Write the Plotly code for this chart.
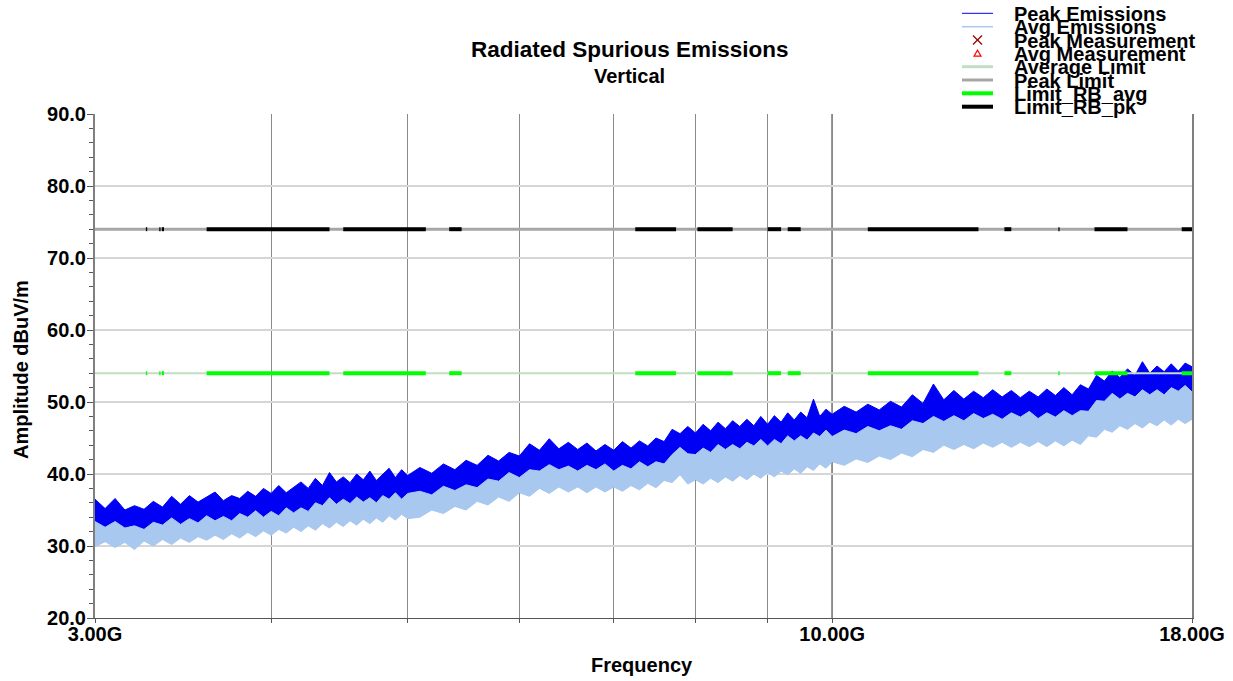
import plotly.graph_objects as go

# ---------------- data (frequency in GHz, amplitude in dBuV/m) ----------------
freq_ghz = [
    3.00, 3.05, 3.10, 3.15, 3.20, 3.25, 3.30, 3.35, 3.40, 3.45,
    3.50, 3.55, 3.60, 3.65, 3.70, 3.75, 3.80, 3.85, 3.90, 3.95,
    4.00, 4.05, 4.10, 4.15, 4.20, 4.25, 4.30, 4.35, 4.40, 4.45,
    4.50, 4.55, 4.60, 4.65, 4.70, 4.75, 4.80, 4.85, 4.90, 4.95,
    5.00,
    5.1, 5.2, 5.3, 5.4, 5.5, 5.6, 5.7, 5.8, 5.9, 6.0,
    6.1, 6.2, 6.3, 6.4, 6.5, 6.6, 6.7, 6.8, 6.9, 7.0,
    7.1, 7.2, 7.3, 7.4, 7.5, 7.6, 7.7, 7.8, 7.9, 8.0,
    8.1, 8.2, 8.3, 8.4, 8.5, 8.6, 8.7, 8.8, 8.9, 9.0,
    9.1, 9.2, 9.3, 9.4, 9.5, 9.6, 9.7, 9.8, 9.9, 10.0,
    10.2, 10.4, 10.6, 10.8, 11.0, 11.2, 11.4, 11.6, 11.8, 12.0,
    12.2, 12.4, 12.6, 12.8, 13.0, 13.2, 13.4, 13.6, 13.8, 14.0,
    14.2, 14.4, 14.6, 14.8, 15.0, 15.2, 15.4, 15.6, 15.8, 16.0,
    16.2, 16.4, 16.6, 16.8, 17.0, 17.2, 17.4, 17.6, 17.8, 18.0,
]

# Peak emissions: upper / lower envelope of the noisy trace
peak_hi = [
    36.5, 35.2, 36.6, 35.0, 35.6, 35.1, 36.2, 35.4, 36.9, 35.8,
    37.0, 36.1, 36.8, 37.5, 36.3, 37.0, 36.6, 37.6, 36.9, 38.0,
    37.3, 38.4, 37.4, 38.2, 38.9, 38.0, 39.4, 38.4, 40.2, 38.9,
    39.6, 38.8, 40.0, 39.2, 40.4, 39.1, 39.9, 40.8, 39.5, 40.6,
    39.8,
    40.9, 40.1, 41.4, 40.6, 41.9, 41.2, 42.6, 41.8, 43.0, 42.5,
    44.2, 43.3, 44.9, 43.5, 44.4, 43.4, 44.3, 43.2, 44.1, 43.3,
    44.5, 43.6, 44.6, 43.9, 45.0, 44.5, 46.2, 45.6, 46.6, 45.7,
    46.9, 46.0, 47.2, 46.3, 47.4, 46.6, 47.6, 46.7, 48.0, 46.9,
    48.1, 47.2, 48.5, 47.5, 48.6, 47.8, 50.4, 48.0, 49.0, 48.3,
    49.4, 48.6, 49.7, 48.9, 50.1, 49.3, 51.0, 49.8, 52.5, 50.3,
    51.6, 50.4, 51.5, 50.6, 51.7, 50.7, 51.6, 50.6, 51.5, 50.7,
    51.8, 50.9, 52.0, 51.0, 52.4, 51.8, 53.7, 52.9, 54.3, 53.4,
    54.6, 53.7, 55.6, 54.0, 55.0, 54.2, 55.3, 54.3, 55.4, 54.9,
]
peak_lo = [
    30.9, 31.6, 30.8, 31.5, 30.5, 31.7, 31.0, 31.9, 31.2, 32.1,
    31.5, 32.3, 31.8, 32.5, 31.9, 32.7, 32.1, 32.9, 32.3, 33.1,
    32.5, 33.3, 32.8, 33.6, 33.0, 33.8, 33.2, 34.1, 33.5, 34.3,
    33.7, 34.5, 33.9, 34.7, 34.1, 34.9, 34.3, 35.2, 34.6, 35.4,
    34.8,
    35.0, 36.0, 35.5, 36.5, 36.0, 37.2, 36.7, 37.8, 37.2, 38.4,
    37.9, 39.0, 38.3, 39.2, 38.5, 39.2, 38.4, 39.2, 38.5, 39.2,
    38.6, 39.4, 38.8, 39.7, 39.1, 40.1, 39.8, 40.9, 39.6, 40.2,
    39.6, 40.4, 39.8, 40.6, 40.0, 40.8, 40.2, 41.0, 40.4, 41.2,
    40.6, 41.4, 40.9, 41.7, 41.1, 42.0, 41.5, 42.4, 41.8, 42.7,
    42.2, 43.1, 42.6, 43.5, 43.0, 43.9, 43.4, 44.4, 44.0, 45.0,
    44.4, 45.1, 44.5, 45.3, 44.7, 45.4, 44.7, 45.4, 44.8, 45.5,
    44.8, 45.6, 44.9, 45.7, 45.1, 46.3, 46.1, 47.2, 46.8, 47.7,
    47.2, 48.0, 47.4, 48.2, 47.7, 48.5, 47.8, 48.6, 48.0, 48.6,
]

# Average emissions: upper / lower envelope
avg_hi = [
    33.4, 32.6, 33.4, 32.5, 32.8, 32.3, 33.3, 32.9, 33.9, 33.0,
    33.8, 33.2, 34.2, 33.5, 34.1, 33.5, 34.5, 34.0, 34.9, 34.0,
    34.8, 34.2, 35.3, 34.6, 35.3, 34.8, 36.0, 35.6, 36.7, 35.8,
    36.5, 35.9, 36.8, 36.1, 36.7, 36.0, 37.0, 36.5, 37.4, 36.5,
    37.3,
    37.6, 37.1, 38.3, 37.7, 38.5, 38.1, 39.3, 39.0, 40.2, 39.5,
    40.6, 40.4, 41.3, 40.6, 41.1, 40.4, 41.2, 40.6, 41.4, 40.4,
    41.2, 40.7, 41.7, 41.0, 41.7, 41.4, 42.7, 43.7, 42.8, 42.7,
    43.6, 43.0, 44.1, 43.4, 44.1, 43.5, 44.4, 43.9, 44.8, 43.9,
    44.8, 44.2, 45.3, 44.6, 45.3, 44.7, 45.7, 45.2, 46.1, 45.2,
    46.1, 45.6, 46.6, 46.0, 46.7, 46.2, 47.4, 47.0, 48.0, 47.3,
    48.1, 47.4, 48.4, 47.7, 48.3, 47.6, 48.5, 47.9, 48.7, 47.7,
    48.5, 47.9, 48.8, 48.1, 48.8, 48.7, 50.2, 50.1, 51.2, 50.4,
    51.2, 50.7, 51.7, 51.0, 51.7, 51.0, 52.0, 51.5, 52.3, 51.4,
]
avg_lo = [
    29.9, 30.6, 29.8, 30.5, 29.5, 30.7, 30.0, 30.9, 30.2, 31.1,
    30.5, 31.3, 30.8, 31.5, 30.9, 31.7, 31.1, 31.9, 31.3, 32.1,
    31.5, 32.3, 31.8, 32.6, 32.0, 32.8, 32.2, 33.1, 32.5, 33.3,
    32.7, 33.5, 32.9, 33.7, 33.1, 33.9, 33.3, 34.2, 33.6, 34.4,
    33.8,
    34.0, 35.0, 34.5, 35.5, 35.0, 36.2, 35.7, 36.8, 36.2, 37.4,
    36.9, 38.0, 37.3, 38.2, 37.5, 38.2, 37.4, 38.2, 37.5, 38.2,
    37.6, 38.4, 37.8, 38.7, 38.1, 39.1, 38.8, 39.9, 38.6, 39.2,
    38.6, 39.4, 38.8, 39.6, 39.0, 39.8, 39.2, 40.0, 39.4, 40.2,
    39.6, 40.4, 39.9, 40.7, 40.1, 41.0, 40.5, 41.4, 40.8, 41.7,
    41.2, 42.1, 41.6, 42.5, 42.0, 42.9, 42.4, 43.4, 43.0, 44.0,
    43.4, 44.1, 43.5, 44.3, 43.7, 44.4, 43.7, 44.4, 43.8, 44.5,
    43.8, 44.6, 43.9, 44.7, 44.1, 45.3, 45.1, 46.2, 45.8, 46.7,
    46.2, 47.0, 46.4, 47.2, 46.7, 47.5, 46.8, 47.6, 47.0, 47.6,
]

# Limits
limit_freq = [3.0, 18.0]
average_limit = [54.0, 54.0]
peak_limit = [74.0, 74.0]

# Restricted bands (GHz)
rb_start = [3.26, 3.332, 3.3458, 3.6, 4.5, 5.35, 7.25, 8.025, 9.0, 9.3, 10.6, 13.25, 14.47, 15.35, 17.7]
rb_stop = [3.267, 3.339, 3.358, 4.4, 5.15, 5.46, 7.75, 8.5, 9.2, 9.5, 12.7, 13.4, 14.5, 16.2, 21.4]
rb_avg_level = 54.0
rb_pk_level = 74.0

x_tickvals = [3, 4, 5, 6, 7, 8, 9, 10, 18]
x_ticktext = ["3.00G", "", "", "", "", "", "", "10.00G", "18.00G"]
y_tickvals = [20, 30, 40, 50, 60, 70, 80, 90]

legend_labels = ["Peak Emissions", "Avg Emissions", "Peak Measurement", "Avg Measurement",
                 "Average Limit", "Peak Limit", "Limit_RB_avg", "Limit_RB_pk"]

# ---------------- styling ----------------
FONT = "Liberation Sans, Arial, sans-serif"
C_PEAK = "#0000f5"
C_AVG = "#a8c8f0"
C_AVG_LIM = "#c2dec2"
C_PK_LIM = "#a6a6a6"
C_RB_AVG = "#00ff00"
C_RB_PK = "#000000"

W, H = 1233, 681
ML, MR, MT, MB = 95, 41, 114, 63
PW, PH = W - ML - MR, H - MT - MB


def xp(px):
    return (px - ML) / PW


def yp(py):
    return (MT + PH - py) / PH


fig = go.Figure()

# Peak emissions band
fig.add_trace(go.Scatter(x=freq_ghz, y=peak_lo, mode="lines",
                         line=dict(color=C_PEAK, width=0.5), showlegend=False, hoverinfo="skip"))
fig.add_trace(go.Scatter(x=freq_ghz, y=peak_hi, mode="lines", fill="tonexty",
                         fillcolor=C_PEAK, line=dict(color=C_PEAK, width=1),
                         name="Peak Emissions", showlegend=False))
# Average emissions band
fig.add_trace(go.Scatter(x=freq_ghz, y=avg_lo, mode="lines",
                         line=dict(color=C_AVG, width=1), showlegend=False, hoverinfo="skip"))
fig.add_trace(go.Scatter(x=freq_ghz, y=avg_hi, mode="lines", fill="tonexty",
                         fillcolor=C_AVG, line=dict(color=C_AVG, width=1),
                         name="Avg Emissions", showlegend=False))

# Limits
fig.add_trace(go.Scatter(x=limit_freq, y=average_limit, mode="lines",
                         line=dict(color=C_AVG_LIM, width=2), name="Average Limit", showlegend=False))
fig.add_trace(go.Scatter(x=limit_freq, y=peak_limit, mode="lines",
                         line=dict(color=C_PK_LIM, width=3), name="Peak Limit", showlegend=False))

rb_x, rb_y_avg, rb_y_pk = [], [], []
for s, e in zip(rb_start, rb_stop):
    rb_x += [s, e, None]
    rb_y_avg += [rb_avg_level, rb_avg_level, None]
    rb_y_pk += [rb_pk_level, rb_pk_level, None]

fig.add_trace(go.Scatter(x=rb_x, y=rb_y_avg, mode="lines", connectgaps=False,
                         line=dict(color=C_RB_AVG, width=4), name="Limit_RB_avg", showlegend=False))
fig.add_trace(go.Scatter(x=rb_x, y=rb_y_pk, mode="lines", connectgaps=False,
                         line=dict(color=C_RB_PK, width=4), name="Limit_RB_pk", showlegend=False))

# ---------------- custom legend (overlapping, as in the reference) ----------------
shapes = []
annotations = []
row_y = [13.3, 26.7, 40.0, 53.3, 66.7, 80.0, 93.3, 106.7]
line_styles = {
    0: (C_PEAK, 1),
    1: (C_AVG, 1.5),
    4: (C_AVG_LIM, 3),
    5: (C_PK_LIM, 3),
    6: (C_RB_AVG, 4),
    7: (C_RB_PK, 4),
}
for i, lab in enumerate(legend_labels):
    y = row_y[i]
    if i in line_styles:
        col, wd = line_styles[i]
        shapes.append(dict(type="line", xref="paper", yref="paper",
                           x0=xp(962), x1=xp(993), y0=yp(y), y1=yp(y),
                           line=dict(color=col, width=wd)))
    annotations.append(dict(text="<b>%s</b>" % lab, xref="paper", yref="paper",
                            x=xp(1012), y=yp(y + 0.5), xanchor="left", yanchor="middle",
                            showarrow=False, font=dict(family=FONT, size=20, color="black")))
# X marker (Peak Measurement)
cx, cy = 977.5, row_y[2]
shapes.append(dict(type="line", xref="paper", yref="paper", x0=xp(cx - 4.5), x1=xp(cx + 4.5),
                   y0=yp(cy - 4.5), y1=yp(cy + 4.5), line=dict(color="#9a0000", width=1.2)))
shapes.append(dict(type="line", xref="paper", yref="paper", x0=xp(cx - 4.5), x1=xp(cx + 4.5),
                   y0=yp(cy + 4.5), y1=yp(cy - 4.5), line=dict(color="#9a0000", width=1.2)))
# Triangle marker (Avg Measurement)
cx, cy = 977.5, row_y[3]
shapes.append(dict(type="path", xref="paper", yref="paper",
                   path="M %f %f L %f %f L %f %f Z" % (xp(cx - 3.5), yp(cy + 2.8), xp(cx + 3.5), yp(cy + 2.8),
                                                      xp(cx), yp(cy - 3.2)),
                   line=dict(color="#ff0000", width=1.2), fillcolor="rgba(0,0,0,0)"))

# darker decade gridline at 10 GHz
shapes.append(dict(type="line", xref="x", yref="paper", x0=10, x1=10, y0=0, y1=1,
                   line=dict(color="#5a5a5a", width=1.5), layer="between"))

# Titles
annotations.append(dict(text="<b>Radiated Spurious Emissions</b>", xref="paper", yref="paper",
                        x=xp(630), y=yp(49), xanchor="center", yanchor="middle", showarrow=False,
                        font=dict(family=FONT, size=22.5, color="black")))
annotations.append(dict(text="<b>Vertical</b>", xref="paper", yref="paper",
                        x=xp(629), y=yp(76), xanchor="center", yanchor="middle", showarrow=False,
                        font=dict(family=FONT, size=20, color="black")))
annotations.append(dict(text="<b>Frequency</b>", xref="paper", yref="paper",
                        x=xp(642), y=yp(665), xanchor="center", yanchor="middle", showarrow=False,
                        font=dict(family=FONT, size=20, color="black")))
annotations.append(dict(text="<b>Amplitude dBuV/m</b>", xref="paper", yref="paper",
                        x=xp(21), y=yp(370), xanchor="center", yanchor="middle", showarrow=False,
                        textangle=-90, font=dict(family=FONT, size=20, color="black")))

fig.update_layout(
    width=W, height=H,
    margin=dict(l=ML, r=MR, t=MT, b=MB, pad=0, autoexpand=False),
    paper_bgcolor="white", plot_bgcolor="white",
    showlegend=False,
    shapes=shapes, annotations=annotations,
    font=dict(family=FONT, size=20, color="black"),
)
fig.update_xaxes(
    type="log", range=[0.47712125, 1.25527251], automargin=False,
    tickmode="array", tickvals=x_tickvals, ticktext=["<b>%s</b>" % t if t else "" for t in x_ticktext],
    ticks="outside", ticklen=4, tickcolor="#555555", tickwidth=1,
    ticklabelstandoff=-6,
    showgrid=True, gridcolor="#8a8a8a", gridwidth=1,
    showline=True, linecolor="#555555", linewidth=1.2,
    zeroline=False, tickfont=dict(family=FONT, size=20, color="black"),
)
fig.update_yaxes(
    range=[20, 90], automargin=False, tickmode="array", tickvals=y_tickvals,
    ticktext=["<b>%.1f</b>" % v for v in y_tickvals],
    ticks="outside", ticklen=6, tickcolor="#555555", tickwidth=1,
    ticklabelstandoff=-3,
    minor=dict(dtick=2, tick0=20, ticks="outside", ticklen=4, tickcolor="#555555", showgrid=False),
    showgrid=True, gridcolor="#d6d6d6", gridwidth=1.5,
    showline=True, linecolor="#7f7f7f", linewidth=2, mirror=True,
    zeroline=False, tickfont=dict(family=FONT, size=20, color="black"),
)

# remove the default page margin so the figure sits at the window's top-left corner
fig.write_html("out.html", config={"displayModeBar": False},
               post_script="document.body.style.margin='0px';")
